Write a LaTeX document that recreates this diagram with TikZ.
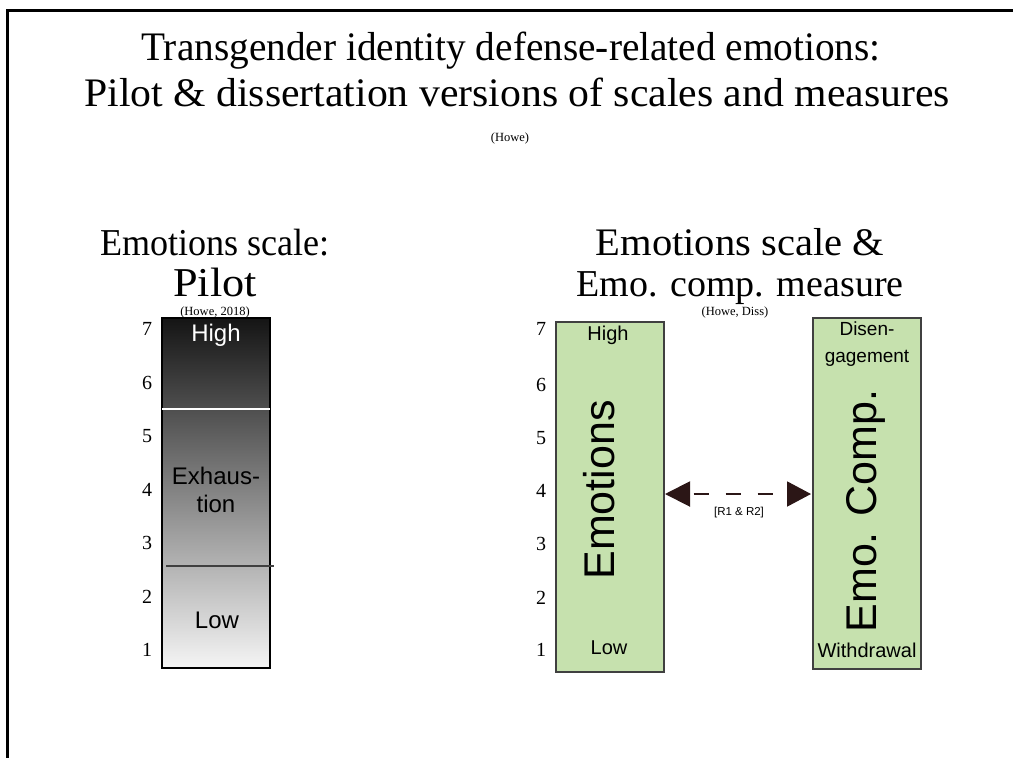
\documentclass[tikz,border=0pt]{standalone}
\usepackage{fontspec}
\setmainfont{Liberation Serif}
\newfontfamily\labelfont{Liberation Sans}
\usetikzlibrary{arrows.meta}
\definecolor{boxgreen}{HTML}{C6E1AE}
\definecolor{arrowbrown}{HTML}{2B1616}
\tikzset{
  titletext/.style={font=\fontsize{40.5}{40}\selectfont, anchor=base, inner sep=0pt},
  headtext/.style={font=\fontsize{38}{38}\selectfont, anchor=base, inner sep=0pt},
  smallref/.style={font=\fontsize{12.5}{12.5}\selectfont, anchor=base, inner sep=0pt},
  numtext/.style={font=\fontsize{20}{20}\selectfont, anchor=base},
  scalebox/.style={draw=black!75, line width=1.2pt, minimum width=108pt, inner sep=0pt, outer sep=0pt},
  boxlabel/.style={font=\labelfont\fontsize{24}{28}\selectfont, align=center, inner sep=0pt},
  greenlabel/.style={font=\labelfont\fontsize{20}{24}\selectfont, align=center, inner sep=0pt},
  biglabel/.style={font=\labelfont\fontsize{43}{43}\selectfont, rotate=90, inner sep=0pt},
  connector/.style={arrowbrown, line width=2pt, dash pattern=on 15pt off 17pt, dash phase=-4pt,
     {Triangle[length=25pt,width=25pt]}-{Triangle[length=24pt,width=25pt]}},
}
\begin{document}
\begin{tikzpicture}[x=1pt,y=-1pt]
\useasboundingbox (0,0) rectangle (1013,758);
% frame
\draw[line width=3pt] (1020,10) -- (7,10) -- (7,770);
% title
\node[titletext, xscale=0.97] (t1) at (511,60) {Transgender identity defense-related emotions:};
\node[titletext, xscale=1.03] (t2) at (517,106) {Pilot \& dissertation versions of scales and measures};
\node[smallref] (t3) at (510,141) {(Howe)};
% left heading
\node[headtext, xscale=0.95] (lh1) at (215,255) {Emotions scale:};
\node[headtext, font=\fontsize{41}{41}\selectfont, xscale=1.08] (lh2) at (215,296) {Pilot};
\node[smallref] (lh3) at (215,315) {(Howe, 2018)};
% right heading
\node[headtext, font=\fontsize{39}{39}\selectfont, xscale=1.04] (rh1) at (740,255) {Emotions scale \&};
\node[headtext] (rh2) at (740,296) {Emo. comp. measure};
\node[smallref] (rh3) at (735,315) {(Howe, Diss)};
% left box
\node[scalebox, draw=black, minimum height=350pt, top color=black!92, bottom color=black!4,
      anchor=north west] (pilot) at (162,318) {};
\coordinate (wy) at (0,409);
\coordinate (dy) at (0,566);
\draw[white, line width=1.2pt] (pilot.west |- wy) -- (pilot.east |- wy);
\draw[black!75, line width=1.2pt] ([xshift=4pt]pilot.west |- dy) -- ([xshift=4pt]pilot.east |- dy);
\node[boxlabel, white] (ph) at (216,335) {High};
\node[boxlabel] (pe) at (216,490) {Exhaus-\\tion};
\node[boxlabel] (pl) at (217,620) {Low};
% left numbers
\foreach \n/\y in {7/335,6/389,5/442,4/496,3/549,2/603,1/656}
  \node[numtext] (ln\n) at (147,\y) {\n};
% right boxes
\node[scalebox, fill=boxgreen, minimum height=350pt, anchor=north west] (emo) at (556,322) {};
\node[greenlabel] (eh) at (608,335) {High};
\node[greenlabel] (el) at (609,648) {Low};
\node[biglabel] (emoL) at (599,490) {Emotions};
\node[scalebox, fill=boxgreen, minimum height=351pt, anchor=north west] (comp) at (813,318) {};
\node[greenlabel, font=\labelfont\fontsize{19}{27}\selectfont] (cd) at (867,344) {Disen-\\gagement};
\node[greenlabel] (cw) at (867,650) {Withdrawal};
\node[biglabel] (compL) at (866,511) {Emo. Comp.};
% right numbers
\foreach \n/\y in {7/335,6/391,5/444,4/497,3/550,2/604,1/656}
  \node[numtext] (rn\n) at (541,\y) {\n};
% connector
\coordinate (ay) at (0,494);
\draw[connector] ([xshift=1pt]emo.east |- ay) -- ([xshift=-2pt]comp.west |- ay);
\node[font=\labelfont\fontsize{11.5}{11.5}\selectfont, inner sep=0pt] (rr) at (739,513) {[R1 \& R2]};
\end{tikzpicture}
\end{document}
